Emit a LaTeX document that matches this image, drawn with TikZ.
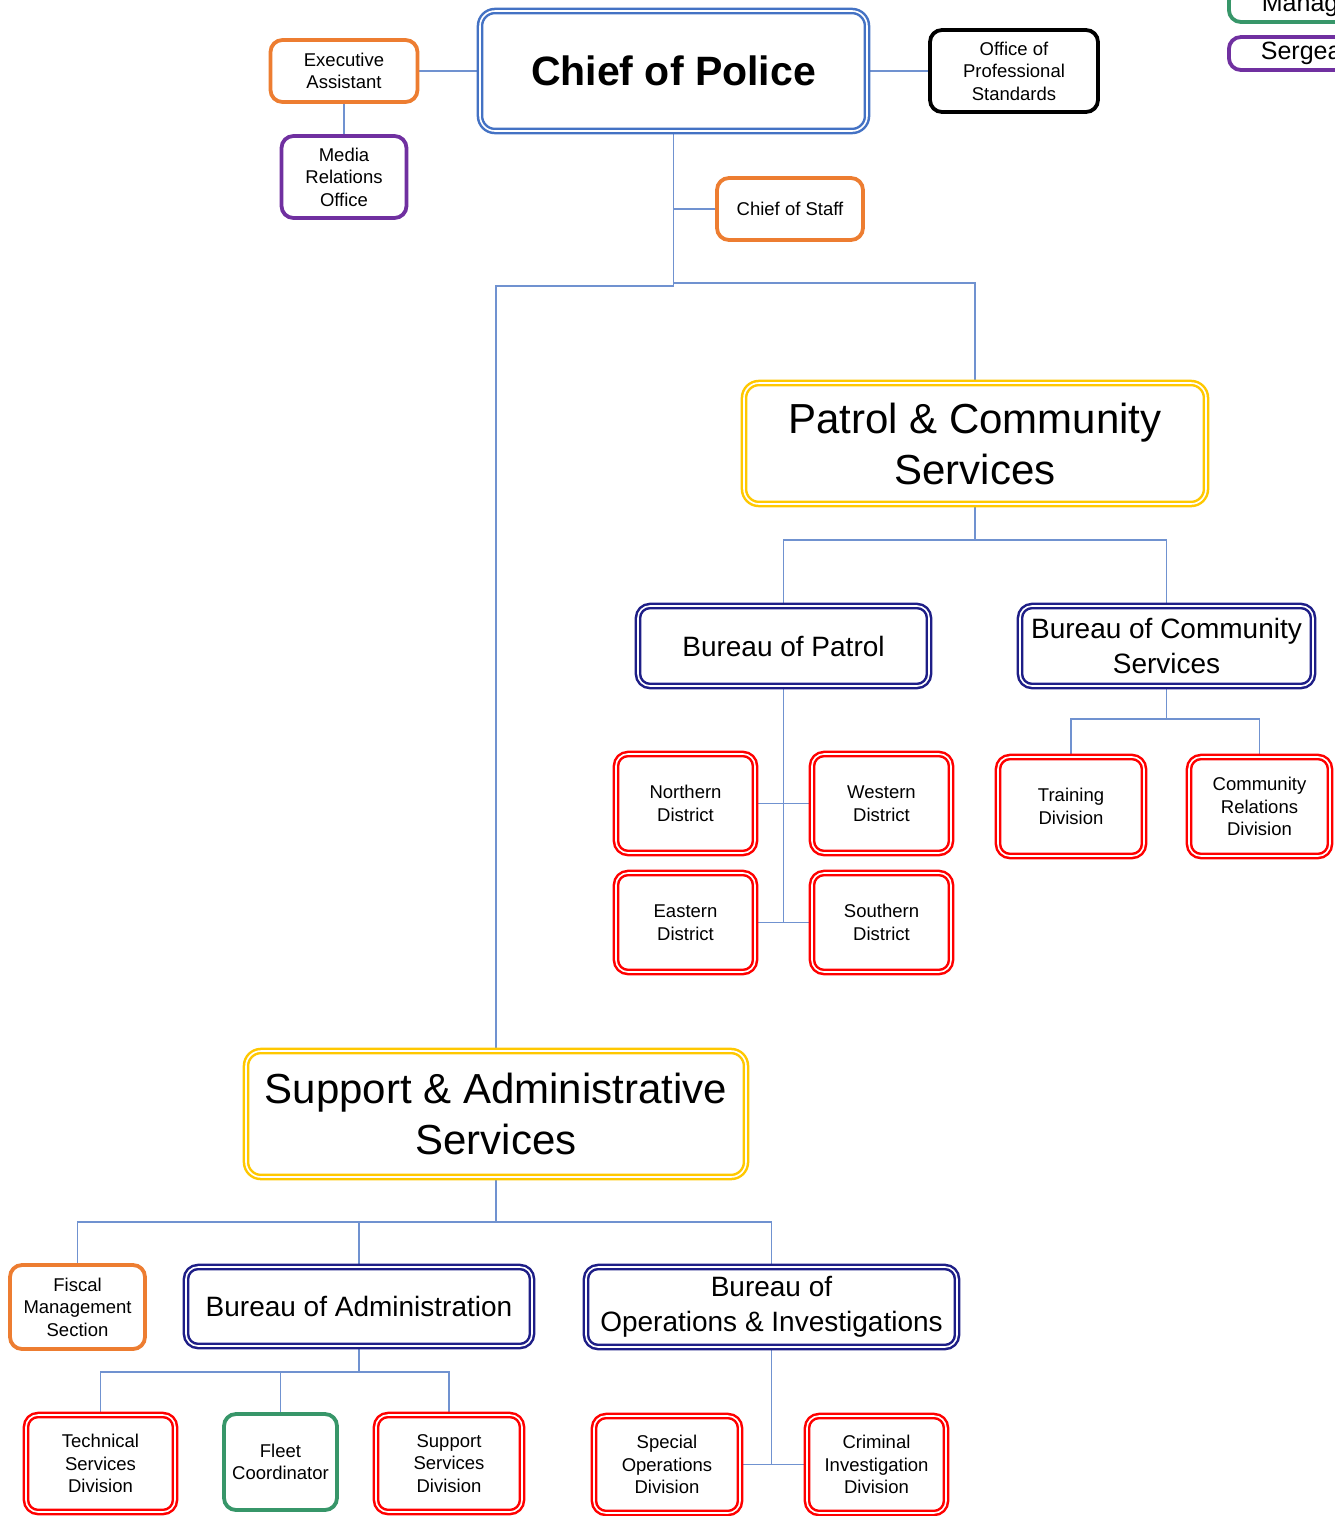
\documentclass[tikz,border=0pt]{standalone}
\usepackage{fontspec}
\setmainfont{Liberation Sans}
\pgfdeclarelayer{bg}
\pgfsetlayers{bg,main}
\definecolor{lineblue}{RGB}{112,146,208}
\definecolor{cblue}{RGB}{68,114,196}
\definecolor{cnavy}{RGB}{30,30,135}
\definecolor{cred}{RGB}{255,0,0}
\definecolor{cyellow}{RGB}{255,200,0}
\definecolor{corange}{RGB}{237,125,49}
\definecolor{cpurple}{RGB}{112,48,160}
\definecolor{cgreen}{RGB}{55,150,105}
\tikzset{
  basebox/.style={rounded corners=12pt, fill=white, inner sep=0pt, align=center, text=black},
  sbox/.style={basebox, draw=#1, line width=3.8pt},
  dbox/.style={basebox, draw=#1, line width=2.5pt, double=white, double distance=1.6pt},
  smalltxt/.style={font=\fontsize{18.5}{22.5}\selectfont},
  midtxt/.style={font=\fontsize{28}{34.5}\selectfont},
  bigtxt/.style={font=\fontsize{42}{51}\selectfont},
  connector/.style={draw=lineblue, line width=1.6pt},
}
\begin{document}
\begin{tikzpicture}[x=1pt,y=-1pt]
\useasboundingbox (0,0) rectangle (1335,1516);
\clip (0,0) rectangle (1335,1516);

% top level
\node[dbox=cblue, rounded corners=15pt, minimum width=387pt, minimum height=120pt,
      font=\fontsize{41}{49}\selectfont\bfseries] (chief) at (673.5,71) {Chief of Police};
\node[sbox=corange, smalltxt, minimum width=147pt, minimum height=62pt] (exec) at (344,71) {Executive\\Assistant};
\node[sbox=cpurple, smalltxt, minimum width=125pt, minimum height=82pt] (media) at (344,177) {Media\\Relations\\Office};
\node[sbox=black, smalltxt, minimum width=168pt, minimum height=82pt] (ops) at (1014,71) {Office of\\Professional\\Standards};
\node[sbox=corange, smalltxt, minimum width=146pt, minimum height=62pt] (cos) at (790,209) {Chief of Staff};

% legend (cut off at the edge)
\node[sbox=cgreen, anchor=west, font=\fontsize{25}{30}\selectfont, minimum height=33pt,
      inner xsep=33pt, text width=160pt, align=left] (lgmgmt) at (1227,5.5) {Management};
\node[sbox=cpurple, anchor=west, font=\fontsize{25}{30}\selectfont, minimum height=33pt,
      inner xsep=32pt, text width=160pt, align=left] (lgsgt) at (1227,53.5) {Sergeant};

% patrol & community
\node[dbox=cyellow, rounded corners=15pt, bigtxt, minimum width=462pt, minimum height=121pt] (pcs) at (975,443.5) {Patrol \& Community\\Services};
\node[dbox=cnavy, midtxt, minimum width=291pt, minimum height=80pt] (bop) at (783.5,646) {Bureau of Patrol};
\node[dbox=cnavy, midtxt, minimum width=293pt, minimum height=80pt] (bcs) at (1166.5,646) {Bureau of Community\\Services};
\node[dbox=cred, smalltxt, minimum width=139pt, minimum height=99pt] (north) at (685.5,803.5) {Northern\\District};
\node[dbox=cred, smalltxt, minimum width=139pt, minimum height=99pt] (west) at (881.5,803.5) {Western\\District};
\node[dbox=cred, smalltxt, minimum width=139pt, minimum height=99pt] (east) at (685.5,922.5) {Eastern\\District};
\node[dbox=cred, smalltxt, minimum width=139pt, minimum height=99pt] (south) at (881.5,922.5) {Southern\\District};
\node[dbox=cred, smalltxt, minimum width=146pt, minimum height=99pt] (train) at (1071,806.5) {Training\\Division};
\node[dbox=cred, smalltxt, minimum width=141pt, minimum height=99pt] (commrel) at (1259.5,806.5) {Community\\Relations\\Division};

% support & administrative
\node[dbox=cyellow, rounded corners=15pt, bigtxt, minimum width=500pt, minimum height=126pt] (sas) at (496,1114) {Support \& Administrative\\Services};
\node[sbox=corange, smalltxt, minimum width=135pt, minimum height=84pt] (fiscal) at (77.5,1307) {Fiscal\\Management\\Section};
\node[dbox=cnavy, midtxt, minimum width=346pt, minimum height=79pt] (badmin) at (359,1306.5) {Bureau of Administration};
\node[dbox=cnavy, midtxt, minimum width=371pt, minimum height=80pt] (bops) at (771.5,1307) {Bureau of\\Operations \& Investigations};
\node[dbox=cred, smalltxt, minimum width=149pt, minimum height=97pt] (tech) at (100.5,1463.5) {Technical\\Services\\Division};
\node[sbox=cgreen, smalltxt, minimum width=113pt, minimum height=96pt] (fleet) at (280.5,1462) {Fleet\\Coordinator};
\node[dbox=cred, smalltxt, minimum width=146pt, minimum height=97pt] (supp) at (449,1463.5) {Support\\Services\\Division};
\node[dbox=cred, smalltxt, minimum width=146pt, minimum height=97pt] (special) at (667,1464.5) {Special\\Operations\\Division};
\node[dbox=cred, smalltxt, minimum width=139pt, minimum height=97pt] (crim) at (876.5,1464.5) {Criminal\\Investigation\\Division};

% connectors
\coordinate (t1) at (673.5,286);
\coordinate (t2) at (673.5,283);
\coordinate (t3) at (975,540);
\coordinate (t5) at (1166.5,719);
\coordinate (t6) at (496,1222);
\coordinate (t7) at (359,1372);
\begin{pgfonlayer}{bg}
\fill[white] (0,0) rectangle (1335,1516);
\draw[connector] (exec.east) -- (chief.west);
\draw[connector] (exec.south) -- (media.north);
\draw[connector] (chief.east) -- (ops.west);
\draw[connector] (chief.south) -- (t1);
\draw[connector] (cos.west) -- (cos.west -| t1);
\draw[connector] (t1) -| (sas.north);
\draw[connector] (t2) -| (pcs.north);
\draw[connector] (pcs.south) -- (t3);
\draw[connector] (bop.north) |- (t3);
\draw[connector] (bcs.north) |- (t3);
\draw[connector] (bop.south) -- (bop.south |- east.east);
\draw[connector] (north.east) -- (west.west);
\draw[connector] (east.east) -- (south.west);
\draw[connector] (bcs.south) -- (t5);
\draw[connector] (train.north) |- (t5);
\draw[connector] (commrel.north) |- (t5);
\draw[connector] (sas.south) -- (t6);
\draw[connector] (fiscal.north) |- (t6);
\draw[connector] (badmin.north) |- (t6);
\draw[connector] (bops.north) |- (t6);
\draw[connector] (badmin.south) -- (t7);
\draw[connector] (tech.north) |- (t7);
\draw[connector] (fleet.north) |- (t7);
\draw[connector] (supp.north) |- (t7);
\draw[connector] (bops.south) -- (bops.south |- special.east);
\draw[connector] (special.east) -- (crim.west);
\end{pgfonlayer}
\end{tikzpicture}
\end{document}
